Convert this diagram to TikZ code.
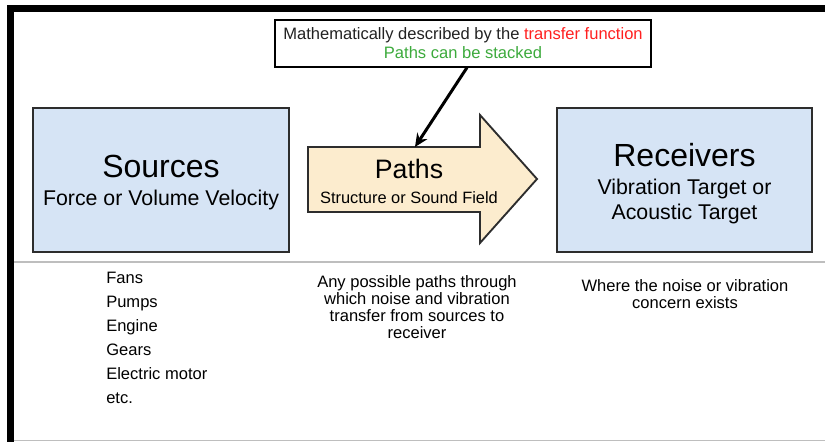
\documentclass[tikz,border=0pt]{standalone}
\usepackage{fontspec}
\setmainfont{Liberation Sans}
\usepackage{xcolor}
\usetikzlibrary{arrows.meta}

\definecolor{srcblue}{RGB}{214,228,245}
\definecolor{pathbeige}{RGB}{252,236,206}
\definecolor{edgegray}{RGB}{45,45,45}
\definecolor{fnred}{RGB}{255,32,32}
\definecolor{stackgreen}{RGB}{60,170,60}
\definecolor{rulegray}{RGB}{190,190,190}

\begin{document}
\begin{tikzpicture}[x=0.75pt,y=0.75pt,yscale=-1,
    bluebox/.style={draw=edgegray,line width=1.1pt,fill=srcblue,minimum width=192pt,minimum height=108pt,inner sep=0pt},
    boxtext/.style={inner sep=0pt,align=center},
    smalltext/.style={inner sep=0pt,text=black},
    rulegrayline/.style={rulegray,line width=0.9pt}]
        \useasboundingbox (0,0) rectangle (825,442);

        %Straight Lines: outer frame
        \draw [line width=5.25pt] (825,8.5) -- (10.5,8.5) -- (10.5,442) ;
        %Straight Lines: separator
        \draw [rulegrayline] (14,262) -- (825,262) ;
        \draw [rulegrayline] (14,440.5) -- (825,440.5) ;

        %Shape: Rectangle (sources)
        \node [bluebox] (sources) at (161,180) {};
        \node [boxtext,font=\fontsize{16}{21}\selectfont] (sourcestext) at ([yshift=2.25pt]sources.center) {{\fontsize{24}{21}\selectfont Sources}\\Force or Volume Velocity};
        %Shape: Rectangle (receivers)
        \node [bluebox,minimum width=191.25pt] (receivers) at (684.5,180) {};
        \node [boxtext,font=\fontsize{16}{18.75}\selectfont] (receiverstext) at ([yshift=3pt]receivers.center) {{\fontsize{24}{21}\selectfont Receivers}\\[2.25pt]Vibration Target or\\Acoustic Target};

        %Shape: Right Arrow (paths)
        \draw [draw=edgegray,line width=1.4pt,fill=pathbeige,line join=miter] (308,147) -- (480,147) -- (480,115) -- (537,179) -- (480,243) -- (480,212) -- (308,212) -- cycle ;
        \coordinate (pathstop) at (415,147);
        \node [boxtext,font=\fontsize{12.3}{18.75}\selectfont] (paths) at (409,181) {{\fontsize{20}{18.75}\selectfont Paths}\\Structure or Sound Field};

        %Shape: Rectangle (note)
        \node [draw,line width=0.8pt,fill=white,minimum width=282pt,minimum height=35.25pt,inner sep=0pt,align=center,text={rgb,255:red,34;green,34;blue,34},font=\fontsize{12.4}{14.25}\selectfont] (note) at (463,43.5) {Mathematically described by the \textcolor{fnred}{transfer function}\\\textcolor{stackgreen}{Paths can be stacked}};
        %Straight Lines [arrow to paths]
        \draw [line width=2.25pt,-{Stealth[length=10pt,width=9pt]}] ([xshift=3pt]note.south) -- (pathstop) ;

        % Text Node
        \node [smalltext,anchor=north west,align=left,font=\fontsize{12.4}{18}\selectfont] (sourcelist) at (106,272) {Fans\\Pumps\\Engine\\Gears\\Electric motor\\etc.};
        % Text Node
        \node [smalltext,anchor=north,align=center,font=\fontsize{12.4}{12.75}\selectfont] (pathtext) at (417,275) {Any possible paths through\\which noise and vibration\\transfer from sources to\\receiver};
        % Text Node
        \node [smalltext,anchor=north,align=center,font=\fontsize{12.4}{13.1}\selectfont] (receivertext) at (685,279) {Where the noise or vibration\\concern exists};

\end{tikzpicture}
\end{document}
